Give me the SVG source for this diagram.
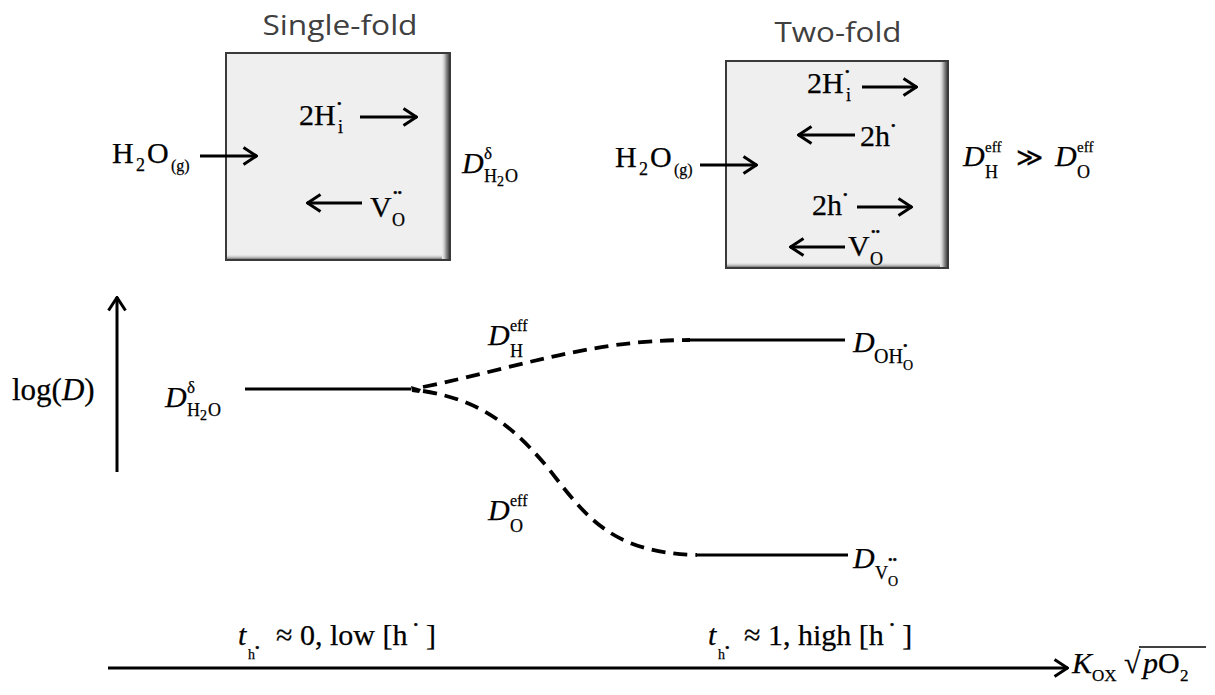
<svg xmlns="http://www.w3.org/2000/svg" width="1215" height="695" viewBox="0 0 1215 695">
<style>
.t{font-family:"Liberation Serif","Times New Roman",serif;fill:#000;stroke:#000;stroke-width:0.25}
.m{font-size:30px}
.s{font-size:18px}
.ss{font-size:14px}
.d{font-size:13px}
.it{font-style:italic}
.title{font-family:"Open Sans","Liberation Sans",sans-serif;font-size:27px;fill:#404040}
.ln{stroke:#000;stroke-width:3;fill:none}
.dash{stroke:#000;stroke-width:3.8;fill:none;stroke-dasharray:14 8}
.box{fill:#efefef;stroke:#3a3a3a;stroke-width:2}
</style>
<defs>
<marker id="ah" markerUnits="userSpaceOnUse" markerWidth="16" markerHeight="20" viewBox="0 0 16 20" refX="15" refY="10" orient="auto">
<path d="M1.5,1.5 L14.5,10 L1.5,18.5" fill="none" stroke="#000" stroke-width="3"/>
</marker>
<linearGradient id="shR" x1="0" y1="0" x2="1" y2="0">
<stop offset="0" stop-color="#efefef" stop-opacity="0"/>
<stop offset="0.6" stop-color="#9a9a9a"/>
<stop offset="1" stop-color="#4a4a4a"/>
</linearGradient>
<linearGradient id="shB" x1="0" y1="0" x2="0" y2="1">
<stop offset="0" stop-color="#efefef" stop-opacity="0"/>
<stop offset="1" stop-color="#7a7a7a"/>
</linearGradient>
</defs>

<g id="single-fold">
<rect class="box" x="226" y="53" width="224" height="207"/>
<rect x="441" y="54" width="8" height="205" fill="url(#shR)"/>
<rect x="227" y="254" width="215" height="5" fill="url(#shB)"/>
<text class="title" x="340" y="35" text-anchor="middle" textLength="155" lengthAdjust="spacingAndGlyphs">Single-fold</text>
<text class="t m" x="112" y="163">H</text><text class="t s" x="136" y="171">2</text><text class="t m" x="147" y="163">O</text><text class="t" font-size="16" x="171" y="171">(g)</text>
<text class="t m" x="299" y="125">2H</text><text class="t d" x="337" y="108">•</text><text class="t s" x="338" y="133">i</text>
<text class="t m" x="370" y="217">V</text><text class="t d" x="393" y="197">••</text><text class="t s" x="392" y="226">O</text>
<text class="t m it" x="462" y="173">D</text><text class="t" font-size="17" x="484" y="159">δ</text><text class="t s" x="484" y="182">H</text><text class="t ss" x="497" y="186">2</text><text class="t s" x="505" y="182">O</text>
</g>

<g id="two-fold">
<rect class="box" x="726" y="61" width="222" height="207"/>
<rect x="939" y="62" width="8" height="205" fill="url(#shR)"/>
<rect x="727" y="262" width="213" height="5" fill="url(#shB)"/>
<text class="title" x="838" y="42" text-anchor="middle" textLength="127" lengthAdjust="spacingAndGlyphs">Two-fold</text>
<text class="t m" x="615" y="167">H</text><text class="t s" x="639" y="175">2</text><text class="t m" x="650" y="167">O</text><text class="t" font-size="16" x="674" y="175">(g)</text>
<text class="t m" x="807" y="93">2H</text><text class="t d" x="845" y="76">•</text><text class="t s" x="846" y="101">i</text>
<text class="t m" x="860" y="146">2h</text><text class="t d" x="891" y="130">•</text>
<text class="t m" x="812" y="215">2h</text><text class="t d" x="843" y="199">•</text>
<text class="t m" x="848" y="256">V</text><text class="t d" x="871" y="236">••</text><text class="t s" x="870" y="265">O</text>
<text class="t m it" x="963" y="166">D</text><text class="t" font-size="15" x="985" y="152">eff</text><text class="t s" x="985" y="178">H</text>
<text class="t" font-size="26" x="1016" y="166">≫</text>
<text class="t m it" x="1055" y="166">D</text><text class="t" font-size="15" x="1077" y="152">eff</text><text class="t s" x="1077" y="178">O</text>
</g>

<g id="plot-labels">
<text class="t" font-size="31" x="12" y="400">log(<tspan class="it">D</tspan>)</text>
<text class="t m it" x="165" y="407">D</text><text class="t" font-size="17" x="187" y="393">δ</text><text class="t s" x="187" y="416">H</text><text class="t ss" x="200" y="420">2</text><text class="t s" x="208" y="416">O</text>
<text class="t m it" x="488" y="345">D</text><text class="t" font-size="16" x="510" y="331">eff</text><text class="t s" x="510" y="357">H</text>
<text class="t m it" x="488" y="520">D</text><text class="t" font-size="16" x="510" y="506">eff</text><text class="t s" x="510" y="532">O</text>
<text class="t m it" x="853" y="352">D</text><text class="t" font-size="20" x="874" y="363">OH</text><text class="t d" x="903" y="350">•</text><text class="t ss" x="903" y="370">O</text>
<text class="t m it" x="853" y="568">D</text><text class="t s" x="875" y="579">V</text><text class="t d" x="888" y="564">••</text><text class="t ss" x="888" y="586">O</text>
</g>

<g id="axis-labels">
<text class="t m it" x="238" y="645">t</text><text class="t ss" x="248" y="659">h</text><text class="t d" x="255" y="652">•</text>
<text class="t m" x="276" y="645">≈ 0, low [h<tspan class="d" dx="6" dy="-16">•</tspan><tspan dx="8" dy="16">]</tspan></text>
<text class="t m it" x="708" y="645">t</text><text class="t ss" x="718" y="659">h</text><text class="t d" x="725" y="652">•</text>
<text class="t m" x="744" y="645">≈ 1, high [h<tspan class="d" dx="6" dy="-16">•</tspan><tspan dx="8" dy="16">]</tspan></text>
<text class="t m it" x="1072" y="673">K</text><text class="t" font-size="17" x="1092" y="681">OX</text>
<text class="t m" x="1124" y="673">√</text>
<line x1="1139" y1="647" x2="1206" y2="647" stroke="#000" stroke-width="1.5"/>
<text class="t m it" x="1143" y="673">p</text><text class="t m" x="1158" y="673">O</text><text class="t" font-size="17" x="1180" y="681">2</text>
</g>

<g id="connectors">
<line class="ln" x1="200" y1="156" x2="257" y2="156" marker-end="url(#ah)"/>
<line class="ln" x1="360" y1="117" x2="417" y2="117" marker-end="url(#ah)"/>
<line class="ln" x1="362" y1="203" x2="307" y2="203" marker-end="url(#ah)"/>
<line class="ln" x1="700" y1="165" x2="757" y2="165" marker-end="url(#ah)"/>
<line class="ln" x1="862" y1="87" x2="917" y2="87" marker-end="url(#ah)"/>
<line class="ln" x1="855" y1="135" x2="798" y2="135" marker-end="url(#ah)"/>
<line class="ln" x1="857" y1="207" x2="912" y2="207" marker-end="url(#ah)"/>
<line class="ln" x1="845" y1="247" x2="790" y2="247" marker-end="url(#ah)"/>
<line class="ln" x1="117" y1="472" x2="117" y2="297" marker-end="url(#ah)"/>
<line class="ln" x1="108" y1="668" x2="1068" y2="668" marker-end="url(#ah)"/>
<line class="ln" x1="245" y1="389" x2="411" y2="389" stroke-width="3.5"/>
<path d="M411,386 L421,389 L419,393 L412,392 Z" fill="#000"/>
<path class="dash" d="M423,387 C520,367 590,340 690,340"/>
<path class="dash" d="M423,391 C480,400 512,425 548,468 C585,515 610,553 697,555"/>
<line class="ln" x1="690" y1="340" x2="845" y2="340" stroke-width="3.8"/>
<line class="ln" x1="697" y1="555" x2="848" y2="555" stroke-width="3.8"/>
</g>
</svg>
